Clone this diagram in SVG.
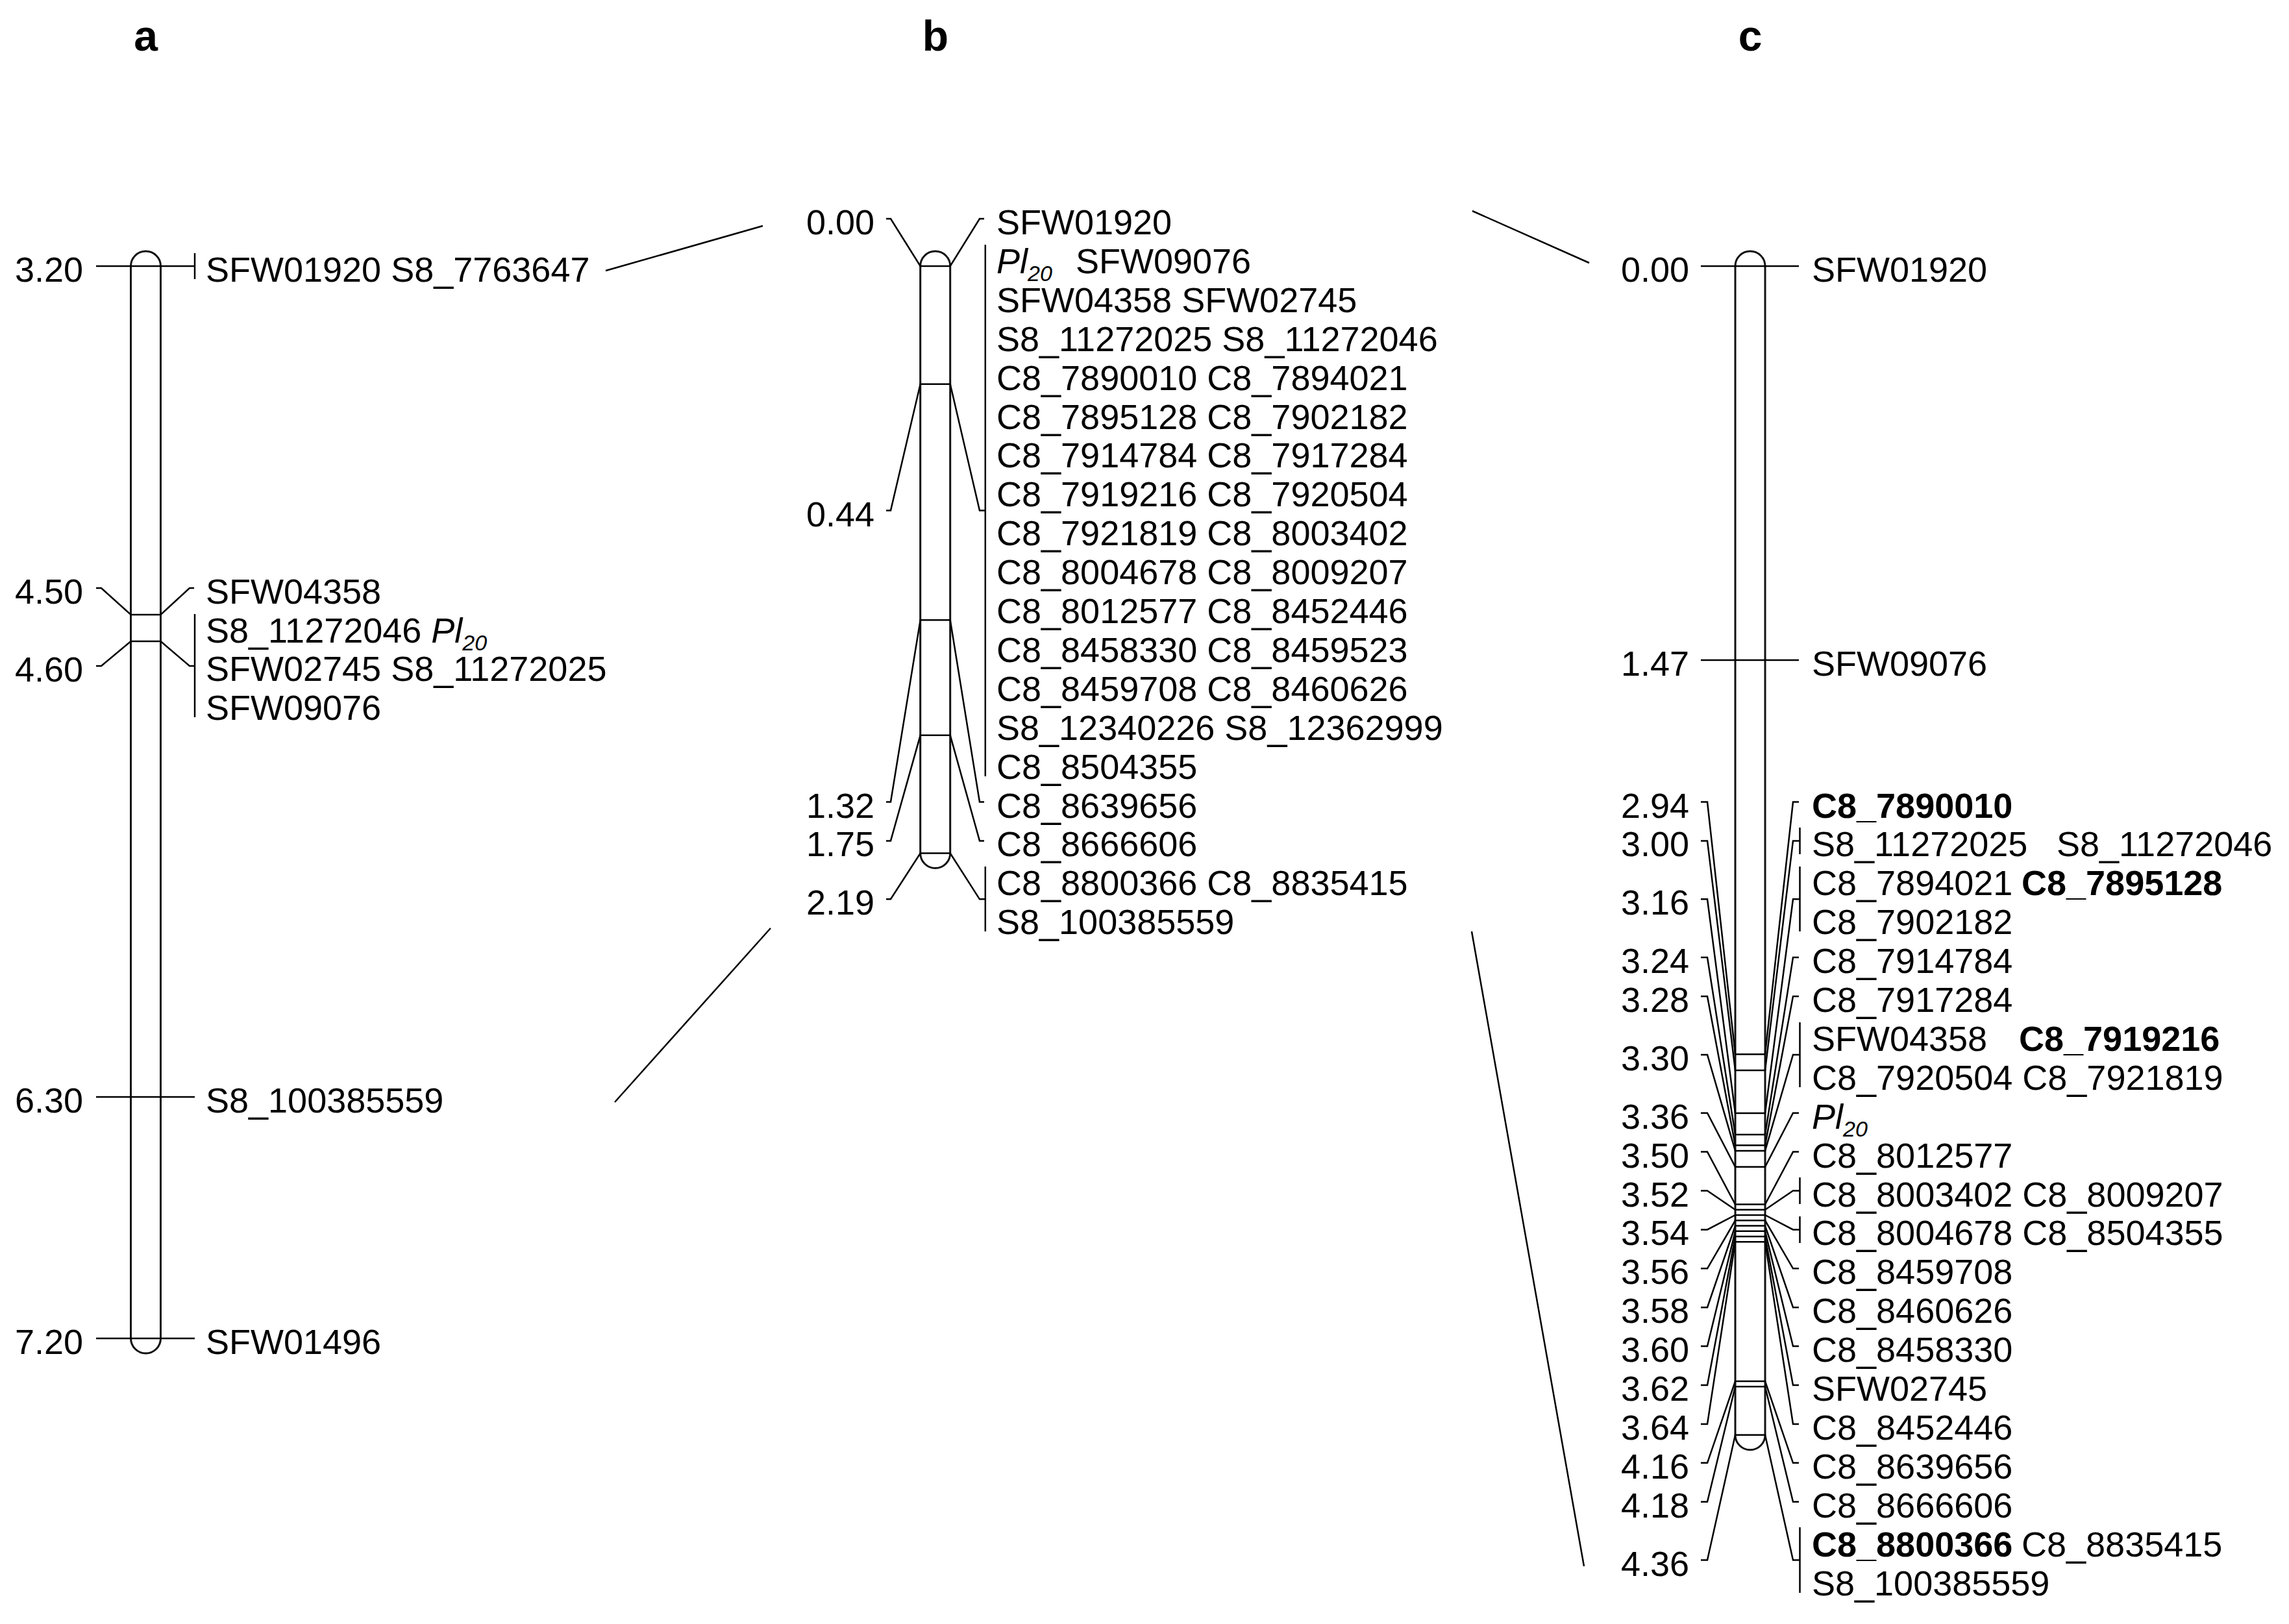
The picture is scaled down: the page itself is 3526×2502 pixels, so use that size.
<svg xmlns="http://www.w3.org/2000/svg" width="3526" height="2502" viewBox="0 0 3526 2502">
<style>
text{font-family:"Liberation Sans",Arial,sans-serif;font-size:54px;fill:#000}
.r{text-anchor:end}
.b{font-weight:bold}
.i{font-style:italic}
.sub{font-size:34px;font-style:italic}
.hd{font-weight:bold;font-size:66px;text-anchor:middle}
.ln{stroke:#000;stroke-width:2.5;fill:none}
.ch{stroke:#111;stroke-width:3;fill:none}
.cn{stroke:#000;stroke-width:2.5;fill:none}
</style>
<rect width="3526" height="2502" fill="#fff"/>
<g id="labels">
<text class="hd" x="224.5" y="78">a</text>
<text class="hd" x="1441" y="78">b</text>
<text class="hd" x="2696" y="78">c</text>
</g>
<g id="connectors">
<line class="cn" x1="933" y1="417" x2="1175" y2="348"/>
<line class="cn" x1="947" y1="1698" x2="1187" y2="1430"/>
<line class="cn" x1="2268" y1="325" x2="2448" y2="405"/>
<line class="cn" x1="2267" y1="1435" x2="2440" y2="2413"/>
</g>
<g id="chrA">
<path class="ch" d="M201.5,410 A23,23 0 0 1 247.5,410 L247.5,2062 A23,23 0 0 1 201.5,2062 Z"/>
<line class="ln" x1="148" y1="410" x2="300" y2="410"/>
<line class="ln" x1="300" y1="390" x2="300" y2="430"/>
<polyline class="ln" points="148,906 156,906 201.5,947 247.5,947 292,906 299,906"/>
<polyline class="ln" points="148,1026 156,1026 201.5,988 247.5,988 292,1026 300,1026"/>
<line class="ln" x1="300" y1="946" x2="300" y2="1105"/>
<line class="ln" x1="148" y1="1690" x2="300" y2="1690"/>
<line class="ln" x1="148" y1="2062" x2="300" y2="2062"/>
<text class="r" x="128" y="434">3.20</text>
<text class="r" x="128" y="930">4.50</text>
<text class="r" x="128" y="1050">4.60</text>
<text class="r" x="128" y="1714">6.30</text>
<text class="r" x="128" y="2086">7.20</text>
<text x="317" y="434">SFW01920 S8_7763647</text>
<text x="317" y="930">SFW04358</text>
<text x="317" y="990">S8_11272046 <tspan class="i">Pl</tspan><tspan class="sub" dy="12">20</tspan></text>
<text x="317" y="1049">SFW02745 S8_11272025</text>
<text x="317" y="1109">SFW09076</text>
<text x="317" y="1714">S8_100385559</text>
<text x="317" y="2086">SFW01496</text>
</g>
<g id="chrB">
<path class="ch" d="M1417.7,410 A23,23 0 0 1 1463.7,410 L1463.7,1314.5 A23,23 0 0 1 1417.7,1314.5 Z"/>
<polyline class="ln" points="1365,337 1372,337 1417.7,410 1463.7,410 1509,337 1516,337"/>
<polyline class="ln" points="1365,786.5 1372,786.5 1417.7,591.7 1463.7,591.7 1509,786.5 1517.8,786.5"/>
<line class="ln" x1="1517.8" y1="377" x2="1517.8" y2="1196"/>
<polyline class="ln" points="1365,1235.5 1372,1235.5 1417.7,955.2 1463.7,955.2 1509,1235.5 1516,1235.5"/>
<polyline class="ln" points="1365,1295.4 1372,1295.4 1417.7,1132.8 1463.7,1132.8 1509,1295.4 1516,1295.4"/>
<polyline class="ln" points="1365,1385.3 1372,1385.3 1417.7,1314.5 1463.7,1314.5 1509,1385.3 1517.8,1385.3"/>
<line class="ln" x1="1517.8" y1="1335" x2="1517.8" y2="1435"/>
<text class="r" x="1347" y="361">0.00</text>
<text class="r" x="1347" y="810.5">0.44</text>
<text class="r" x="1347" y="1259.5">1.32</text>
<text class="r" x="1347" y="1319.4">1.75</text>
<text class="r" x="1347" y="1409.3">2.19</text>
<text x="1535" y="361">SFW01920</text>
<text x="1535" y="420.9"><tspan class="i">Pl</tspan><tspan class="sub" dy="12">20</tspan></text>
<text x="1657" y="420.9">SFW09076</text>
<text x="1535" y="480.8">SFW04358 SFW02745</text>
<text x="1535" y="540.7">S8_11272025 S8_11272046</text>
<text x="1535" y="600.6">C8_7890010 C8_7894021</text>
<text x="1535" y="660.5">C8_7895128 C8_7902182</text>
<text x="1535" y="720.4">C8_7914784 C8_7917284</text>
<text x="1535" y="780.3">C8_7919216 C8_7920504</text>
<text x="1535" y="840.2">C8_7921819 C8_8003402</text>
<text x="1535" y="900.1">C8_8004678 C8_8009207</text>
<text x="1535" y="960">C8_8012577 C8_8452446</text>
<text x="1535" y="1019.9">C8_8458330 C8_8459523</text>
<text x="1535" y="1079.8">C8_8459708 C8_8460626</text>
<text x="1535" y="1139.7">S8_12340226 S8_12362999</text>
<text x="1535" y="1199.6">C8_8504355</text>
<text x="1535" y="1259.5">C8_8639656</text>
<text x="1535" y="1319.4">C8_8666606</text>
<text x="1535" y="1379.3">C8_8800366 C8_8835415</text>
<text x="1535" y="1439.2">S8_100385559</text>
</g>
<g id="chrC">
<path class="ch" d="M2673,410 A23,23 0 0 1 2719,410 L2719,2210.7 A23,23 0 0 1 2673,2210.7 Z"/>
<line class="ln" x1="2620" y1="410" x2="2771" y2="410"/>
<line class="ln" x1="2620" y1="1017.1" x2="2771" y2="1017.1"/>
<polyline class="ln" points="2620,1235.5 2630,1235.5 2673,1624.2 2719,1624.2 2762,1235.5 2771,1235.5"/>
<polyline class="ln" points="2620,1295.4 2630,1295.4 2673,1649 2719,1649 2762,1295.4 2772.5,1295.4"/>
<polyline class="ln" points="2620,1385.3 2630,1385.3 2673,1715.1 2719,1715.1 2762,1385.3 2772.5,1385.3"/>
<polyline class="ln" points="2620,1475.1 2630,1475.1 2673,1748.1 2719,1748.1 2762,1475.1 2771,1475.1"/>
<polyline class="ln" points="2620,1535 2630,1535 2673,1764.6 2719,1764.6 2762,1535 2771,1535"/>
<polyline class="ln" points="2620,1624.9 2630,1624.9 2673,1772.9 2719,1772.9 2762,1624.9 2772.5,1624.9"/>
<polyline class="ln" points="2620,1714.7 2630,1714.7 2673,1797.7 2719,1797.7 2762,1714.7 2771,1714.7"/>
<polyline class="ln" points="2620,1774.6 2630,1774.6 2673,1855.5 2719,1855.5 2762,1774.6 2771,1774.6"/>
<polyline class="ln" points="2620,1834.5 2630,1834.5 2673,1863.8 2719,1863.8 2762,1834.5 2772.5,1834.5"/>
<polyline class="ln" points="2620,1894.4 2630,1894.4 2673,1872 2719,1872 2762,1894.4 2772.5,1894.4"/>
<polyline class="ln" points="2620,1954.3 2630,1954.3 2673,1880.3 2719,1880.3 2762,1954.3 2771,1954.3"/>
<polyline class="ln" points="2620,2014.2 2630,2014.2 2673,1888.5 2719,1888.5 2762,2014.2 2771,2014.2"/>
<polyline class="ln" points="2620,2074.1 2630,2074.1 2673,1896.8 2719,1896.8 2762,2074.1 2771,2074.1"/>
<polyline class="ln" points="2620,2134 2630,2134 2673,1905.1 2719,1905.1 2762,2134 2771,2134"/>
<polyline class="ln" points="2620,2193.9 2630,2193.9 2673,1913.3 2719,1913.3 2762,2193.9 2771,2193.9"/>
<polyline class="ln" points="2620,2253.8 2630,2253.8 2673,2128.1 2719,2128.1 2762,2253.8 2771,2253.8"/>
<polyline class="ln" points="2620,2313.7 2630,2313.7 2673,2136.3 2719,2136.3 2762,2313.7 2771,2313.7"/>
<polyline class="ln" points="2620,2403.6 2630,2403.6 2673,2210.7 2719,2210.7 2762,2403.6 2772.5,2403.6"/>
<line class="ln" x1="2772.5" y1="1275" x2="2772.5" y2="1316"/>
<line class="ln" x1="2772.5" y1="1335" x2="2772.5" y2="1435"/>
<line class="ln" x1="2772.5" y1="1575" x2="2772.5" y2="1675"/>
<line class="ln" x1="2772.5" y1="1814" x2="2772.5" y2="1855"/>
<line class="ln" x1="2772.5" y1="1874" x2="2772.5" y2="1915"/>
<line class="ln" x1="2772.5" y1="2353" x2="2772.5" y2="2454"/>
<text class="r" x="2602" y="434">0.00</text>
<text class="r" x="2602" y="1041">1.47</text>
<text class="r" x="2602" y="1259.5">2.94</text>
<text class="r" x="2602" y="1319.4">3.00</text>
<text class="r" x="2602" y="1409.3">3.16</text>
<text class="r" x="2602" y="1499.1">3.24</text>
<text class="r" x="2602" y="1559">3.28</text>
<text class="r" x="2602" y="1648.9">3.30</text>
<text class="r" x="2602" y="1738.7">3.36</text>
<text class="r" x="2602" y="1798.6">3.50</text>
<text class="r" x="2602" y="1858.5">3.52</text>
<text class="r" x="2602" y="1918.4">3.54</text>
<text class="r" x="2602" y="1978.3">3.56</text>
<text class="r" x="2602" y="2038.2">3.58</text>
<text class="r" x="2602" y="2098.1">3.60</text>
<text class="r" x="2602" y="2158">3.62</text>
<text class="r" x="2602" y="2217.9">3.64</text>
<text class="r" x="2602" y="2277.8">4.16</text>
<text class="r" x="2602" y="2337.7">4.18</text>
<text class="r" x="2602" y="2427.6">4.36</text>
<text x="2791" y="434">SFW01920</text>
<text x="2791" y="1041">SFW09076</text>
<text class="b" x="2791" y="1259.5">C8_7890010</text>
<text x="2791" y="1319.4">S8_11272025</text>
<text x="3168" y="1319.4">S8_11272046</text>
<text x="2791" y="1379.3">C8_7894021</text>
<text class="b" x="3114" y="1379.3">C8_7895128</text>
<text x="2791" y="1439.2">C8_7902182</text>
<text x="2791" y="1499.1">C8_7914784</text>
<text x="2791" y="1559">C8_7917284</text>
<text x="2791" y="1618.9">SFW04358</text>
<text class="b" x="3110" y="1618.9">C8_7919216</text>
<text x="2791" y="1678.8">C8_7920504 C8_7921819</text>
<text x="2791" y="1738.7"><tspan class="i">Pl</tspan><tspan class="sub" dy="12">20</tspan></text>
<text x="2791" y="1798.6">C8_8012577</text>
<text x="2791" y="1858.5">C8_8003402 C8_8009207</text>
<text x="2791" y="1918.4">C8_8004678 C8_8504355</text>
<text x="2791" y="1978.3">C8_8459708</text>
<text x="2791" y="2038.2">C8_8460626</text>
<text x="2791" y="2098.1">C8_8458330</text>
<text x="2791" y="2158">SFW02745</text>
<text x="2791" y="2217.9">C8_8452446</text>
<text x="2791" y="2277.8">C8_8639656</text>
<text x="2791" y="2337.7">C8_8666606</text>
<text class="b" x="2791" y="2397.6">C8_8800366</text>
<text x="3114" y="2397.6">C8_8835415</text>
<text x="2791" y="2457.5">S8_100385559</text>
</g>
</svg>
